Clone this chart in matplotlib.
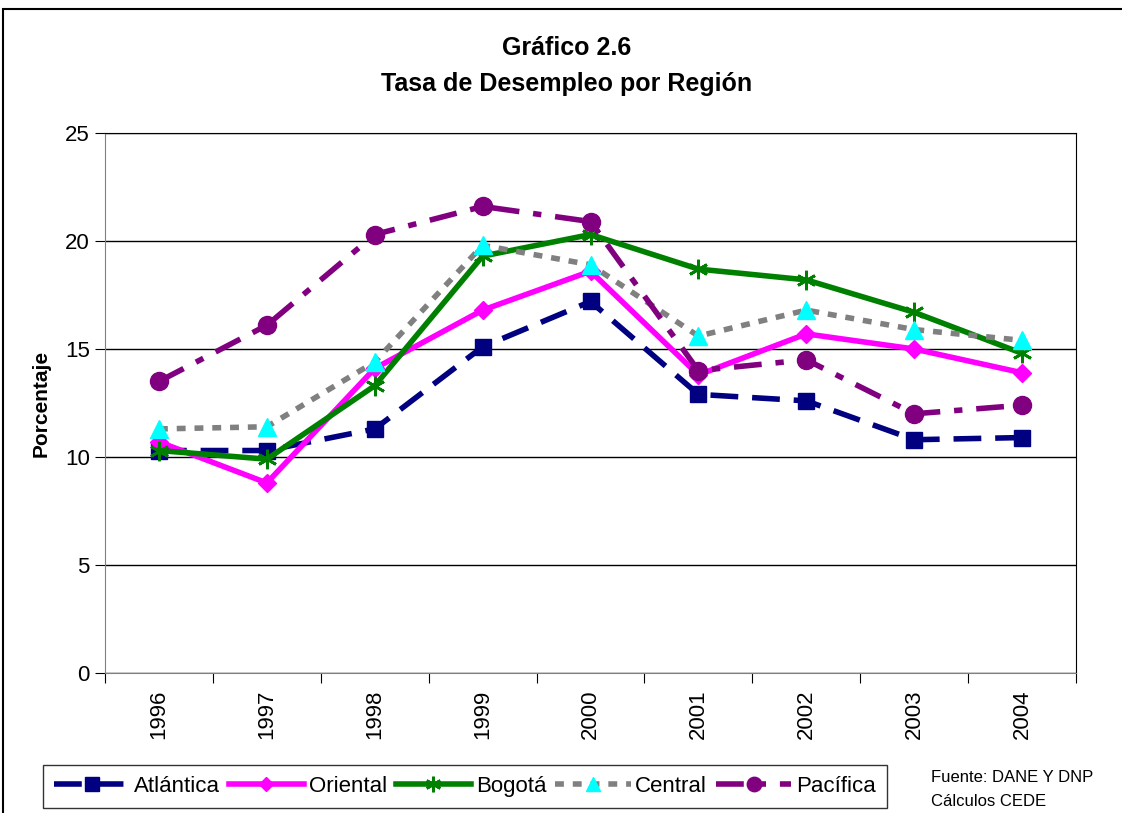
import matplotlib.pyplot as plt
import matplotlib as mpl
from matplotlib.patches import Rectangle

mpl.rcParams.update({
	'font.family': ['Liberation Sans', 'DejaVu Sans'],
	'font.size': 16})

years = ['1996', '1997', '1998', '1999', '2000', '2001', '2002', '2003', '2004']
atlantica = [10.3, 10.3, 11.3, 15.1, 17.2, 12.9, 12.6, 10.8, 10.9]
oriental = [10.7, 8.8, 14.1, 16.8, 18.6, 13.8, 15.7, 15.0, 13.9]
bogota = [10.3, 9.9, 13.3, 19.3, 20.3, 18.7, 18.2, 16.7, 14.8]
central = [11.3, 11.4, 14.4, 19.8, 18.9, 15.6, 16.8, 15.9, 15.4]
pacifica = [13.5, 16.1, 20.3, 21.6, 20.9, 14.0, 14.5, 12.0, 12.4]

fig = plt.figure(figsize=(11.22, 8.13), dpi=100)
ax = fig.add_axes([0.0936, 0.1722, 0.8654, 0.6642])

x = range(len(years))
ax.plot(x, atlantica, color='#000080', lw=4, dashes=(5, 2.5), marker='s', ms=12, label='Atlántica')
ax.plot(x, oriental, color='#ff00ff', lw=4, marker='D', ms=9, label='Oriental')
ax.plot(x, bogota, color='#008000', lw=4, marker=(6, 2, 0), ms=14, mew=2, label='Bogotá')
ax.plot(x, central, color='#808080', lw=4, dashes=(1.6, 1.6), marker='^', ms=13,
	mfc='#00ffff', mec='#00ffff', label='Central')
ax.plot(x, pacifica, color='#800080', lw=4, dashes=(5, 2.5, 1.5, 2.5), marker='o', ms=13, label='Pacífica')

ax.set_xlim(-0.5, len(years) - 0.5)
ax.set_ylim(0, 25)
ax.set_yticks([0, 5, 10, 15, 20, 25])
ax.set_xticks([i + 0.5 for i in range(-1, len(years))], minor=False)
ax.set_xticklabels([])
ax.set_xticks(list(x), minor=True)
ax.set_xticklabels(years, minor=True, rotation=90)
ax.tick_params(axis='x', which='minor', length=0, pad=12)
ax.tick_params(axis='x', which='major', length=7, direction='out')
ax.tick_params(axis='y', length=7, direction='out', pad=4)
ax.yaxis.grid(True, color='black', lw=1)
ax.set_axisbelow(True)
for s in ['top', 'right']:
	ax.spines[s].set_color('black')
ax.spines['left'].set_color('#808080')
ax.spines['bottom'].set_color('#808080')

ax.set_ylabel('Porcentaje', fontsize=15, fontweight='bold', labelpad=10)

fig.text(0.505, 0.932, 'Gráfico 2.6', ha='center', fontsize=18, fontweight='bold')
fig.text(0.505, 0.888, 'Tasa de Desempleo por Región', ha='center', fontsize=18, fontweight='bold')

leg = fig.legend(loc='lower left', bbox_to_anchor=(0.038, 0.006), ncol=5, frameon=True,
	fancybox=False, edgecolor='black', fontsize=16, handlelength=3.4, handletextpad=0.2,
	columnspacing=0.4, borderpad=0.5, borderaxespad=0, markerscale=0.8)
leg.get_frame().set_linewidth(1)

fig.text(0.83, 0.038, 'Fuente: DANE Y DNP', fontsize=12)
fig.text(0.83, 0.008, 'Cálculos CEDE', fontsize=12)

fig.patches.append(Rectangle((0.003, -0.1), 1.5, 1.089, transform=fig.transFigure,
	fill=False, edgecolor='black', lw=1.5))

fig.savefig('out.png', dpi=100)
